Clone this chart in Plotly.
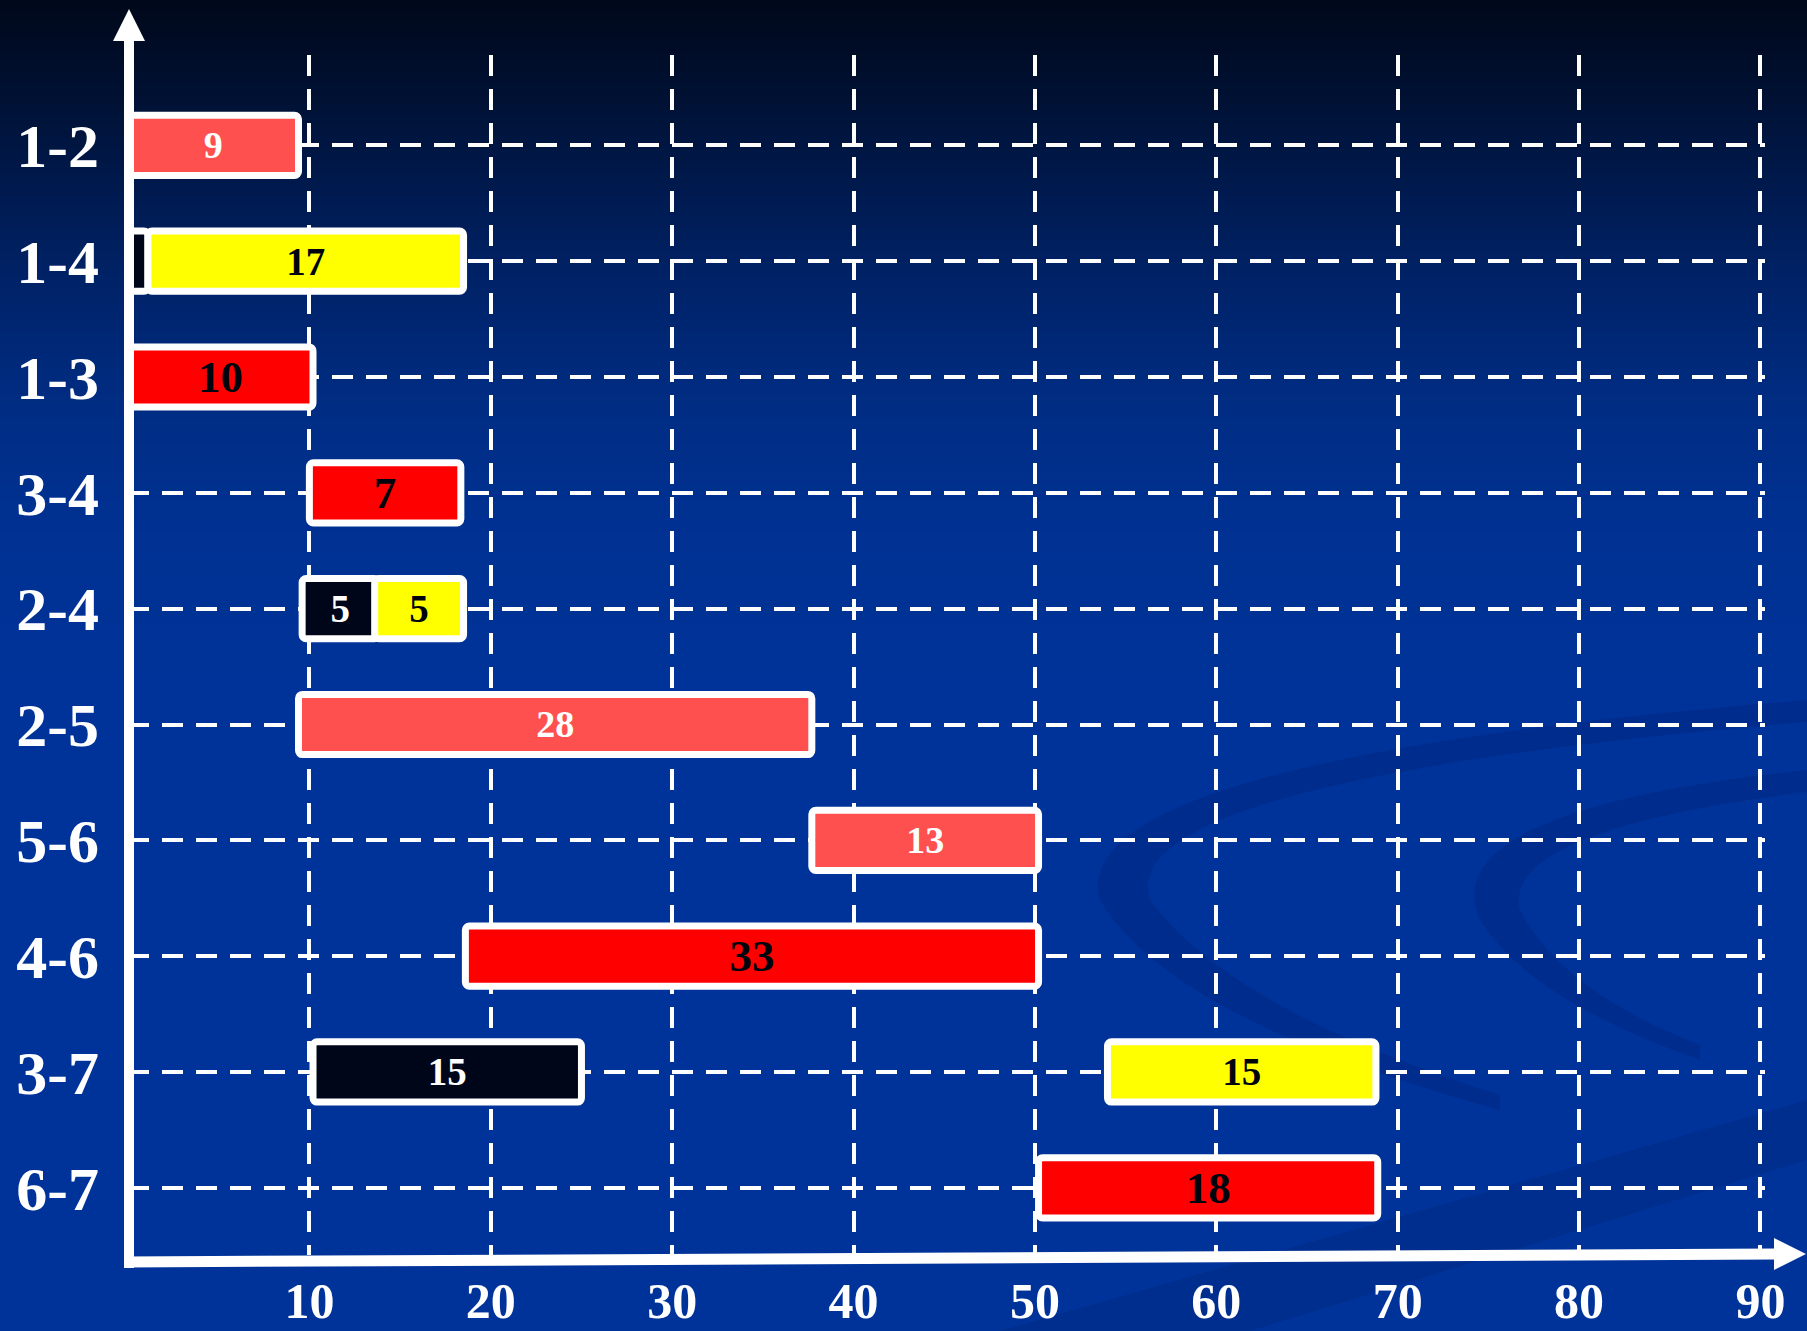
import base64, struct, zlib
import plotly.graph_objects as go

# ---------------- data ----------------
rows = ["1-2", "1-4", "1-3", "3-4", "2-4", "2-5", "5-6", "4-6", "3-7", "6-7"]

bar_rows   = ["1-2", "1-4", "1-4", "1-3", "3-4", "2-4", "2-4", "2-5", "5-6", "4-6", "3-7", "3-7", "6-7"]
bar_starts = [0.0,   0.0,   1.1,   0.0,   10.0,  9.6,   13.6,  9.4,   37.7,  18.6,  10.2,  54.0,  50.2]
bar_ends   = [9.4,   1.1,   18.5,  10.2,  18.35, 13.8,  18.5,  37.7,  50.2,  50.2,  25.0,  68.8,  68.9]
bar_labels = ["9",   "",    "17",  "10",  "7",   "5",   "5",   "28",  "13",  "33",  "15",  "15",  "18"]
bar_kinds  = ["noncritical", "work", "float", "critical", "critical", "work", "float",
              "noncritical", "noncritical", "critical", "work", "float", "critical"]

x_ticks = [10, 20, 30, 40, 50, 60, 70, 80, 90]

# ---------------- styles ----------------
kind_fill = {"noncritical": "#FF5050", "critical": "#FF0000", "float": "#FFFF00", "work": "#00061A"}
kind_text = {"noncritical": "#FFFFFF", "critical": "#00040F", "float": "#00040F", "work": "#FFFFFF"}
kind_size = {"noncritical": 38, "critical": 45, "float": 39, "work": 39}

SERIF = "Liberation Serif, Times New Roman, serif"
W, H = 1807, 1331
L, R, T, B = 128, 42, 55, 76
PW, PH = W - L - R, H - T - B


def xp(px):
    return (px - L) / PW


def yp(py):
    return 1 - (py - T) / PH


def pt(px, py):
    return f"{xp(px)},{yp(py)}"


# background gradient as a tiny PNG
stops = [(0, (0, 8, 26)), (100, (0, 17, 52)), (200, (0, 27, 82)), (300, (0, 36, 108)),
         (400, (0, 44, 130)), (520, (0, 49, 146)), (680, (0, 51, 153)), (H, (0, 51, 153))]


def grad_color(y):
    for (y0, c0), (y1, c1) in zip(stops[:-1], stops[1:]):
        if y0 <= y <= y1:
            t = (y - y0) / (y1 - y0) if y1 > y0 else 0
            return tuple(int(round(a + (b - a) * t)) for a, b in zip(c0, c1))
    return stops[-1][1]


def png_uri(n_rows, width=4):
    raw = b"".join(b"\x00" + bytes(grad_color(y)) * width for y in range(n_rows))

    def chunk(tag, data):
        return struct.pack(">I", len(data)) + tag + data + struct.pack(">I", zlib.crc32(tag + data) & 0xFFFFFFFF)

    png = (b"\x89PNG\r\n\x1a\n"
           + chunk(b"IHDR", struct.pack(">IIBBBBB", width, n_rows, 8, 2, 0, 0, 0))
           + chunk(b"IDAT", zlib.compress(raw, 9))
           + chunk(b"IEND", b""))
    return "data:image/png;base64," + base64.b64encode(png).decode()


fig = go.Figure()
fig.add_trace(go.Bar(
    y=bar_rows,
    x=[e - s for s, e in zip(bar_starts, bar_ends)],
    base=bar_starts,
    orientation="h",
    width=0.52,
    marker=dict(color=[kind_fill[k] for k in bar_kinds], line=dict(color="#FFFFFF", width=7)),
    text=bar_labels,
    textposition="inside",
    insidetextanchor="middle",
    textangle=0,
    textfont=dict(family=SERIF, weight="bold",
                  size=[kind_size[k] for k in bar_kinds],
                  color=[kind_text[k] for k in bar_kinds]),
    hoverinfo="skip",
    showlegend=False,
))

grid = dict(showgrid=True, gridcolor="#FFFFFF", gridwidth=4, griddash="21px,13px",
            zeroline=False, showline=False, ticks="")

shapes = []
# faint background swooshes (decoration)
swoosh = "rgba(0,30,110,0.28)"
shapes.append(dict(type="path", xref="paper", yref="paper", layer="below", fillcolor=swoosh,
                   line=dict(width=0),
                   path=(f"M {pt(1807, 700)} Q {pt(1060, 760)} {pt(1100, 900)} "
                         f"Q {pt(1170, 1020)} {pt(1500, 1110)} L {pt(1500, 1095)} "
                         f"Q {pt(1230, 1010)} {pt(1150, 900)} Q {pt(1110, 780)} {pt(1807, 722)} Z")))
shapes.append(dict(type="path", xref="paper", yref="paper", layer="below", fillcolor=swoosh,
                   line=dict(width=0),
                   path=(f"M {pt(1807, 770)} Q {pt(1430, 810)} {pt(1480, 920)} "
                         f"Q {pt(1530, 1000)} {pt(1700, 1060)} L {pt(1700, 1045)} "
                         f"Q {pt(1560, 990)} {pt(1520, 910)} Q {pt(1500, 830)} {pt(1807, 792)} Z")))
shapes.append(dict(type="path", xref="paper", yref="paper", layer="below",
                   fillcolor="rgba(0,30,110,0.22)", line=dict(width=0),
                   path=(f"M {pt(1000, 1331)} L {pt(1807, 1100)} L {pt(1807, 1160)} "
                         f"L {pt(1250, 1331)} Z")))
# y axis line + arrow
shapes.append(dict(type="line", xref="paper", yref="paper", layer="above",
                   x0=xp(129), x1=xp(129), y0=yp(1268), y1=yp(36),
                   line=dict(color="#FFFFFF", width=10)))
shapes.append(dict(type="path", xref="paper", yref="paper", layer="above",
                   path=f"M {pt(129, 9)} L {pt(113, 41)} L {pt(145, 41)} Z",
                   fillcolor="#FFFFFF", line=dict(width=0)))
# x axis line + arrow
shapes.append(dict(type="line", xref="paper", yref="paper", layer="above",
                   x0=xp(124), x1=xp(1778), y0=yp(1262), y1=yp(1254),
                   line=dict(color="#FFFFFF", width=11)))
shapes.append(dict(type="path", xref="paper", yref="paper", layer="above",
                   path=f"M {pt(1806, 1254)} L {pt(1774, 1238)} L {pt(1774, 1270)} Z",
                   fillcolor="#FFFFFF", line=dict(width=0)))

fig.update_layout(
    width=W, height=H,
    margin=dict(l=L, r=R, t=T, b=B, autoexpand=False),
    paper_bgcolor="#003399",
    plot_bgcolor="rgba(0,0,0,0)",
    barmode="overlay",
    barcornerradius=4,
    xaxis=dict(range=[0, 90.25], tickvals=x_ticks, ticktext=[str(v) for v in x_ticks],
               tickfont=dict(family=SERIF, size=50, color="#FFFFFF", weight="bold"),
               ticklabelstandoff=12, **grid),
    yaxis=dict(type="category", categoryorder="array", categoryarray=rows,
               range=[9.58, -0.78], autorange=False,
               tickfont=dict(family=SERIF, size=62, color="#FFFFFF", weight="bold"),
               ticklabelstandoff=28, **grid),
    shapes=shapes,
    images=[dict(source=png_uri(H), xref="paper", yref="paper", x=xp(0), y=yp(0),
                 sizex=W / PW, sizey=H / PH, xanchor="left", yanchor="top",
                 sizing="stretch", layer="below")],
)

fig.write_html("out.html", config={"displayModeBar": False},
               post_script="document.body.style.margin='0';document.body.style.overflow='hidden';")
